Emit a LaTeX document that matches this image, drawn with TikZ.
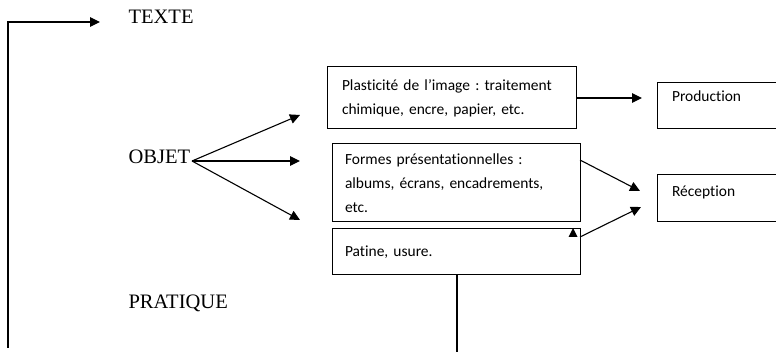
\documentclass[tikz,border=0pt]{standalone}
\usepackage{fontspec}
\setmainfont{Liberation Serif}
\newfontfamily\boxfont[Ligatures=NoCommon]{Carlito}
\usetikzlibrary{arrows.meta}
\frenchspacing
\newlength\pxl
\setlength\pxl{0.75pt}
\tikzset{
  arr/.style={-{Triangle[length=7.5pt,width=7.2pt]}},
  lbl/.style={anchor=base west,inner sep=0pt,font=\fontsize{15.4}{18}\selectfont},
  boxn/.style={draw,line width=1\pxl,inner ysep=0pt,align=left,
    font=\boxfont\fontsize{11.6}{18}\selectfont},
}
\begin{document}
\begin{tikzpicture}[x=0.75pt,y=-0.75pt,line width=1.1\pxl]
\useasboundingbox (0,0) rectangle (776,352);
% labels
\node[lbl] (texte) at (128,24) {TEXTE};
\node[lbl] (objet) at (128,164) {OBJET};
\node[lbl] (pratique) at (128,309) {PRATIQUE};
% boxes
\node[boxn,minimum width=249\pxl,minimum height=62\pxl,text width=219\pxl,inner xsep=15\pxl] (plast) at (451.5,98)
  {Plasticité de l’image : traitement\\chimique, encre, papier, etc.};
\node[boxn,minimum width=248\pxl,minimum height=78\pxl,text width=222\pxl,inner xsep=13\pxl] (formes) at (456,183)
  {Formes présentationnelles :\\albums, écrans, encadrements,\\etc.};
\node[boxn,minimum width=248\pxl,minimum height=46\pxl,text width=222\pxl,inner xsep=13\pxl] (patine) at (456,252)
  {Patine, usure.};
\node[boxn,minimum width=123\pxl,minimum height=46\pxl,text width=93\pxl,inner xsep=15\pxl,text depth=19\pxl] (prod) at (718.5,106)
  {Production};
\node[boxn,minimum width=123\pxl,minimum height=47\pxl,text width=93\pxl,inner xsep=15\pxl,text depth=14\pxl] (recep) at (718.5,198.5)
  {Réception};
% coordinates
\coordinate (lb) at (8,348);
\coordinate (tt) at (100,22);
\coordinate (o0) at (192,161);
\coordinate (o1) at (300,115);
\coordinate (o2) at (300,161);
\coordinate (o3) at (300,220);
\coordinate (pp) at (642,98);
\coordinate (f0) at (580,160);
\coordinate (r1) at (640,191);
\coordinate (q0) at (580,237);
\coordinate (r2) at (641,207);
\coordinate (pb) at (457,352);
% connectors
\draw[arr] (lb) |- (tt);
\draw[arr] (o0) -- (o1);
\draw[arr] (o0) -- (o2);
\draw[arr] (o0) -- (o3);
\draw[arr] (plast.east) -- (pp);
\draw[arr] (f0) -- (r1);
\draw[arr] (q0) -- (r2);
\fill (568.5,237) -- (573,228) -- (577.5,237) -- cycle;
\draw (patine.south -| pb) -- (pb);
\end{tikzpicture}
\end{document}
